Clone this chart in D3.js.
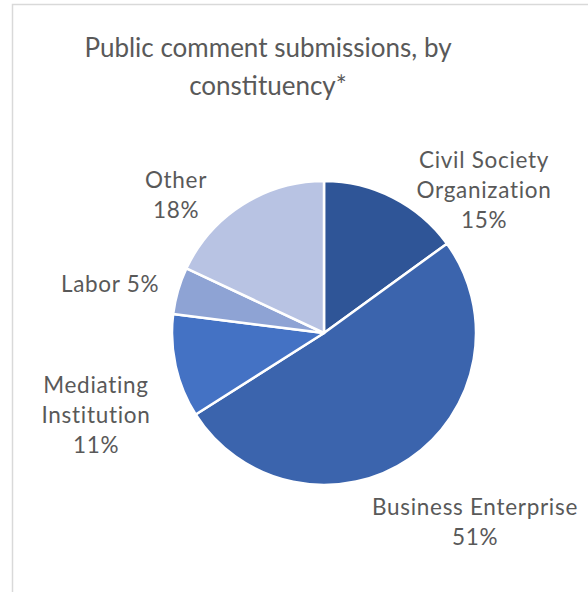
<!DOCTYPE html>
<html>
<head>
<meta charset="utf-8">
<script src="https://cdn.jsdelivr.net/npm/d3@7"></script>
<style>
  body { margin: 0; background: #fff; }
  svg text { font-family: 'Lato', 'Open Sans', sans-serif; fill: #595959; }
</style>
</head>
<body>
<svg id="chart" width="588" height="592"></svg>
<script>
// data
var categories = ['Civil Society Organization', 'Business Enterprise', 'Mediating Institution', 'Labor', 'Other']
var shares = [15, 51, 11, 5, 18]
var colors = ['#2f5597', '#3b64ad', '#4472c4', '#8ea3d4', '#b8c3e3']
var titleLines = ['Public comment submissions, by', 'constituency*']

// label lines for each slice (category text then percent)
var labelLines = [
    ['Civil Society', 'Organization', '15%'],
    ['Business Enterprise', '51%'],
    ['Mediating', 'Institution', '11%'],
    ['Labor 5%'],
    ['Other', '18%']
]
// where each label block is centred, relative to the pie centre
var labelAt = [[160, -143], [151, 189], [-228, 82], [-214, -49], [-148, -138]]

var svg = d3.select('#chart')
var cx = 324, cy = 333, radius = 152
var lineH = 30

// frame
svg.append('rect')
    .attr('x', 12.5)
    .attr('y', 4.5)
    .attr('width', 600)
    .attr('height', 620)
    .attr('fill', 'none')
    .attr('stroke', '#d9d9d9')
    .attr('stroke-width', 1.5)

svg.append('g')
    .selectAll('text')
    .data(titleLines)
    .enter()
    .append('text')
    .attr('x', 268)
    .attr('y', (d, i) => 57 + i * 38)
    .attr('text-anchor', 'middle')
    .style('font-size', '26px')
    .text(d => d)

var pie = d3.pie().sort(null).value(d => d)
var arc = d3.arc().innerRadius(0).outerRadius(radius)

var g = svg.append('g')
    .attr('transform', 'translate(' + cx + ',' + cy + ')')

g.selectAll('path')
    .data(pie(shares))
    .enter()
    .append('path')
    .attr('d', arc)
    .attr('fill', (d, i) => colors[i])
    .attr('stroke', '#fff')
    .attr('stroke-width', 2.5)
    .attr('stroke-linejoin', 'round')

var labels = g.selectAll('g.label')
    .data(categories)
    .enter()
    .append('g')
    .attr('class', 'label')
    .attr('transform', (d, i) => 'translate(' + labelAt[i][0] + ',' + labelAt[i][1] + ')')

labels.each(function(d, i) {
    var lines = labelLines[i]
    var top = -(lines.length - 1) * lineH / 2
    d3.select(this).selectAll('text')
        .data(lines)
        .enter()
        .append('text')
        .attr('text-anchor', 'middle')
        .attr('y', (t, j) => top + j * lineH)
        .attr('dy', '0.35em')
        .style('font-size', '22.5px')
        .style('letter-spacing', '0.7px')
        .text(t => t)
})
</script>
</body>
</html>
